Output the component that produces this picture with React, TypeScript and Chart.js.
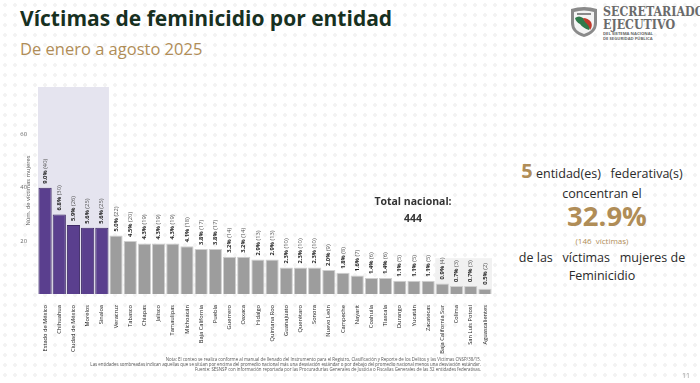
import React, { useEffect, useRef } from "react";
import { Chart, registerables } from "chart.js";

Chart.register(...registerables);

const states = [
  "Estado de México", "Chihuahua", "Ciudad de México", "Morelos", "Sinaloa",
  "Veracruz", "Tabasco", "Chiapas", "Jalisco", "Tamaulipas", "Michoacán",
  "Baja California", "Puebla", "Guerrero", "Oaxaca", "Hidalgo", "Quintana Roo",
  "Guanajuato", "Querétaro", "Sonora", "Nuevo León", "Campeche", "Nayarit",
  "Coahuila", "Tlaxcala", "Durango", "Yucatán", "Zacatecas", "Baja California Sur",
  "Colima", "San Luis Potosí", "Aguascalientes",
];
const victims = [40, 30, 26, 25, 25, 22, 20, 19, 19, 19, 18, 17, 17, 14, 14, 13, 13, 10, 10, 10, 9, 8, 7, 6, 6, 5, 5, 5, 4, 3, 3, 2];
const shares = [
  "9.0%", "6.8%", "5.9%", "5.6%", "5.6%", "5.0%", "4.5%", "4.3%", "4.3%", "4.3%", "4.1%",
  "3.8%", "3.8%", "3.2%", "3.2%", "2.9%", "2.9%", "2.3%", "2.3%", "2.3%", "2.0%", "1.8%",
  "1.6%", "1.4%", "1.4%", "1.1%", "1.1%", "1.1%", "0.9%", "0.7%", "0.7%", "0.5%",
];
const yTickValues = [0, 20, 40, 60];
const highCount = 5;
const lowCount = 4;
const yMax = 78;
const totalNacional = 444;

const PURPLE = "#5a3f8e";
const PURPLE_EDGE = "#3e2a66";
const GRAY = "#9d9d9d";
const GRAY_EDGE = "#cfcfcf";
const GOLD = "#b08d57";
const FONT = "'Open Sans', 'Noto Sans', sans-serif";

function ChartCanvas() {
  const ref = useRef<HTMLCanvasElement | null>(null);
  useEffect(() => {
    const canvas = ref.current;
    if (!canvas) return;

    const shade = {
      id: "shade",
      beforeDatasetsDraw(chart: any) {
        const { ctx, chartArea, scales } = chart;
        const x = scales.x;
        const y = scales.y;
        const half = (x.getPixelForValue(1) - x.getPixelForValue(0)) / 2;
        ctx.save();
        ctx.fillStyle = "#e5e4ef";
        const x0 = x.getPixelForValue(0) - half;
        const x1 = x.getPixelForValue(highCount - 1) + half;
        ctx.fillRect(x0, chartArea.top, x1 - x0, chartArea.bottom - chartArea.top);
        ctx.fillStyle = "#f1f1f1";
        const l0 = x.getPixelForValue(states.length - lowCount) - half;
        const l1 = x.getPixelForValue(states.length - 1) + half;
        const top = y.getPixelForValue(13.5);
        ctx.fillRect(l0, top, l1 - l0, chartArea.bottom - top);
        ctx.restore();
      },
    };

    const labels = {
      id: "barLabels",
      afterDatasetsDraw(chart: any) {
        const { ctx } = chart;
        const meta = chart.getDatasetMeta(0);
        ctx.save();
        meta.data.forEach((bar: any, i: number) => {
          ctx.save();
          ctx.translate(bar.x, bar.y - 4);
          ctx.rotate(-Math.PI / 2);
          ctx.textAlign = "left";
          ctx.textBaseline = "middle";
          ctx.font = `bold 5.8px ${FONT}`;
          ctx.fillStyle = "#1e1e1e";
          const p = shares[i];
          ctx.fillText(p, 0, 0);
          const w = ctx.measureText(p + " ").width;
          ctx.font = `5.8px ${FONT}`;
          ctx.fillStyle = "#555555";
          ctx.fillText(`(${victims[i]})`, w, 0);
          ctx.restore();
        });
        const area = chart.chartArea;
        ctx.translate(28, (area.top + area.bottom) / 2);
        ctx.rotate(-Math.PI / 2);
        ctx.textAlign = "center";
        ctx.textBaseline = "middle";
        ctx.font = `5.8px ${FONT}`;
        ctx.fillStyle = "#555555";
        ctx.fillText("Núm. de víctimas mujeres", 0, 0);
        ctx.restore();
      },
    };

    const chart = new Chart(canvas, {
      type: "bar",
      data: {
        labels: states,
        datasets: [
          {
            data: victims,
            backgroundColor: victims.map((_, i) => (i < highCount ? PURPLE : GRAY)),
            borderColor: victims.map((_, i) => (i < highCount ? PURPLE_EDGE : GRAY_EDGE)),
            borderWidth: 1,
            barPercentage: 0.93,
            categoryPercentage: 1,
          },
        ],
      },
      options: {
        responsive: false,
        animation: false,
        layout: { padding: { top: 7, right: 8, left: 0, bottom: 0 } },
        plugins: {
          legend: { display: false },
          tooltip: { enabled: false },
          title: { display: false },
        },
        scales: {
          x: {
            grid: { display: false },
            border: { display: false },
            ticks: {
              autoSkip: false,
              maxRotation: 90,
              minRotation: 90,
              padding: 3,
              color: "#1a1a1a",
              font: { size: 5.7, family: FONT },
            },
            afterFit(scale: any) {
              scale.height = 89;
            },
          },
          y: {
            min: 0,
            max: yMax,
            grid: { display: false },
            border: { display: false },
            afterBuildTicks(scale: any) {
              scale.ticks = yTickValues.map((v) => ({ value: v }));
            },
            ticks: {
              padding: 3,
              color: "#666666",
              font: { size: 5.8, family: FONT },
              callback: (v: any) => (v === 0 ? "" : String(v)),
            },
            afterFit(scale: any) {
              scale.width = 38;
            },
          },
        },
      },
      plugins: [shade, labels],
    });
    return () => chart.destroy();
  }, []);
  return (
    <canvas
      ref={ref}
      width={500}
      height={303}
      style={{ position: "absolute", left: 0, top: 80, width: 500, height: 303 }}
    />
  );
}

function Shield() {
  return (
    <svg width="30" height="32" viewBox="0 0 30 32" style={{ position: "absolute", left: 569, top: 6 }}>
      <path d="M2 3 Q15 -1 28 3 L28 17 Q28 27 15 31 Q2 27 2 17 Z" fill="#8a8a8a" />
      <path d="M5 6 Q15 3 25 6 L25 17 Q25 25 15 28 Q5 25 5 17 Z" fill="#f4f4f4" />
      <path d="M6 12 Q10 9 14 12 Q16 16 20 18 Q22 21 20 24 Q14 22 11 18 Q7 16 6 12 Z" fill="#2f7a4a" />
      <path d="M14 12 Q19 12 22 16 Q24 20 21 24 Q20 19 16 16 Z" fill="#c0392b" />
      <rect x="8" y="7" width="14" height="2" fill="#8a8a8a" />
    </svg>
  );
}

export default function App() {
  const abs = (s: React.CSSProperties): React.CSSProperties => ({ position: "absolute", whiteSpace: "nowrap", ...s });
  const logoText: React.CSSProperties = {
    fontFamily: "'DejaVu Serif', serif",
    fontWeight: 700,
    fontSize: 13.5,
    color: "#6a6a6a",
    lineHeight: "14px",
    transform: "scaleX(0.82)",
    transformOrigin: "left center",
  };
  return (
    <div
      style={{
        position: "fixed",
        left: 0,
        top: 0,
        width: 700,
        height: 383,
        overflow: "hidden",
        background: "#ffffff",
        backgroundImage: "radial-gradient(circle, #f3f3f3 1.6px, transparent 1.8px)",
        backgroundSize: "10px 10px",
        fontFamily: FONT,
      }}
    >
      <div style={abs({ left: 20, top: 2, fontSize: 21, fontWeight: 700, color: "#17301f", lineHeight: "32px" })}>
        Víctimas de feminicidio por entidad
      </div>
      <div style={abs({ left: 20, top: 37, fontSize: 16.5, color: GOLD, lineHeight: "24px" })}>
        De enero a agosto 2025
      </div>

      <Shield />
      <div style={abs({ left: 603, top: 4, ...logoText })}>SECRETARIADO</div>
      <div style={abs({ left: 603, top: 17, ...logoText })}>EJECUTIVO</div>
      <div style={abs({ left: 603, top: 31, fontFamily: FONT, fontWeight: 700, fontSize: 4.2, color: "#6a6a6a", lineHeight: "5px" })}>
        DEL SISTEMA NACIONAL
        <br />
        DE SEGURIDAD PÚBLICA
      </div>

      <ChartCanvas />

      <div style={abs({ left: 353, top: 193, width: 120, textAlign: "center", fontSize: 10.5, fontWeight: 700, color: "#333333", lineHeight: "17px" })}>
        Total nacional:
        <br />
        {totalNacional}
      </div>

      <div style={abs({ left: 502, top: 159, width: 200, textAlign: "center", color: "#2a2a2a" })}>
        <div style={{ lineHeight: "24px", fontSize: 12.5 }}>
          <span style={{ fontSize: 20, fontWeight: 700, color: GOLD }}>{highCount}</span>
          {" entidad(es)\u00a0\u00a0 federativa(s)"}
        </div>
        <div style={{ lineHeight: "15px", fontSize: 12.5 }}>concentran el</div>
        <div style={{ lineHeight: "30px", fontSize: 27.5, fontWeight: 700, color: GOLD, paddingLeft: 10 }}>32.9%</div>
        <div style={{ lineHeight: "16px", fontSize: 8, color: GOLD, marginTop: 2 }}>(146&nbsp; víctimas)</div>
        <div style={{ lineHeight: "18px", fontSize: 12.5 }}>de las&nbsp;&nbsp; víctimas&nbsp;&nbsp; mujeres de</div>
        <div style={{ lineHeight: "18px", fontSize: 12.5 }}>Feminicidio</div>
      </div>

      <div style={abs({ left: 0, top: 357, width: 481, textAlign: "right", fontSize: 4.4, color: "#555555", lineHeight: "5px" })}>
        Nota: El conteo se realiza conforme al manual de llenado del Instrumento para el Registro, Clasificación y Reporte de los Delitos y las Víctimas CNSP/38/15.
        <br />
        Las entidades sombreadas indican aquellas que se sitúan por encima del promedio nacional más una desviación estándar o por debajo del promedio nacional menos una desviación estándar.
        <br />
        Fuente: SESNSP con información reportada por las Procuradurías Generales de Justicia o Fiscalías Generales de las 32 entidades federativas.
      </div>

      <div style={abs({ left: 682, top: 371, fontSize: 7, color: "#999999" })}>11</div>
    </div>
  );
}
